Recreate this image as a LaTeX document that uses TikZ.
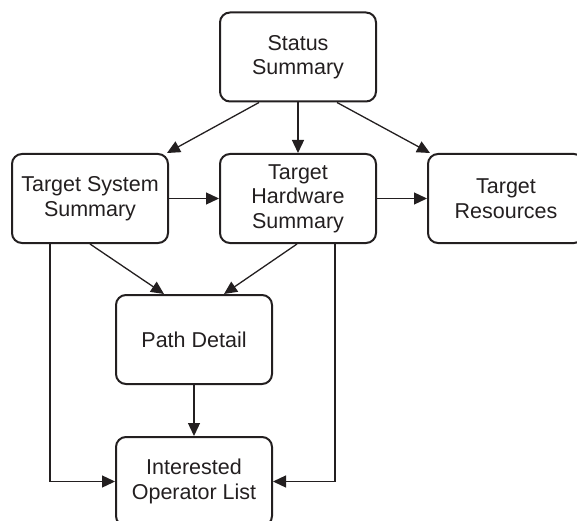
\documentclass[tikz,border=0pt]{standalone}
\usepackage{fontspec}
\setmainfont{Liberation Sans}
\usetikzlibrary{arrows.meta}
\definecolor{ink}{HTML}{231F20}
\begin{document}
\begin{tikzpicture}[x=1pt,y=1pt,
  box/.style={draw=ink, line width=2pt, rounded corners=10pt,
    minimum width=156pt, minimum height=89pt, align=center,
    font=\fontsize{21.5}{24.5}\selectfont, text=ink, inner sep=0pt},
  conn/.style={draw=ink, line width=1.3pt, -{Triangle[length=13pt,width=12pt]}}]
\useasboundingbox (0,0) rectangle (577,520);
\node[box] (ss)  at (298,463)   {Status\\Summary};
\node[box] (tss) at (90,321.5)  {Target System\\Summary};
\node[box] (ths) at (298,321.5) {Target\\Hardware\\Summary};
\node[box] (tr)  at (506,321.5) {Target\\Resources};
\node[box] (pd)  at (194,180.5) {Path Detail};
\node[box] (iol) at (194,38.5)  {Interested\\Operator List};

\draw[conn] ([xshift=-39pt]ss.south) -- ([xshift=-2pt]tss.north east);
\draw[conn] (ss.south) -- (ths.north);
\draw[conn] ([xshift=39pt]ss.south) -- ([xshift=3pt]tr.north west);
\draw[conn] (tss.east) -- (ths.west);
\draw[conn] (ths.east) -- (tr.west);
\draw[conn] (tss.south) -- ([xshift=-30pt]pd.north);
\draw[conn] ([xshift=-1pt]ths.south) -- ([xshift=30pt]pd.north);
\draw[conn] (pd.south) -- (iol.north);
\draw[conn] ([xshift=-40pt]tss.south) |- (iol.west);
\draw[conn] ([xshift=37pt]ths.south) |- (iol.east);
\end{tikzpicture}
\end{document}
